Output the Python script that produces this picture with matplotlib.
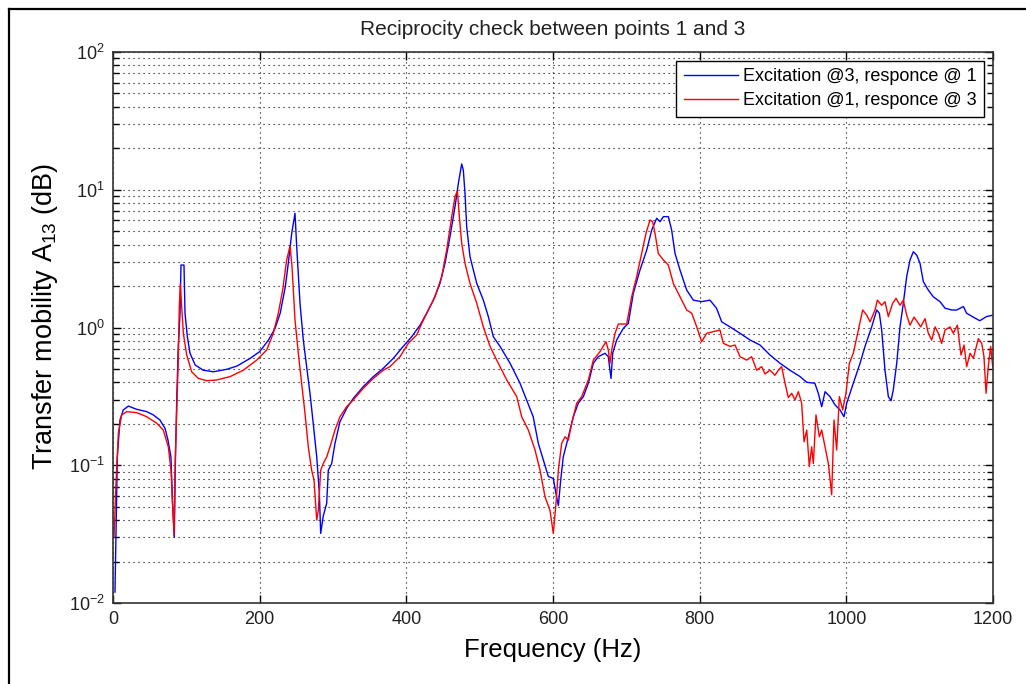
import numpy as np
import matplotlib
matplotlib.use('Agg')
import matplotlib.pyplot as plt
from matplotlib.lines import Line2D
from matplotlib.ticker import LogLocator, NullFormatter, MultipleLocator

plt.rcParams['font.family'] = ['Liberation Sans', 'DejaVu Sans']
plt.rcParams['mathtext.fontset'] = 'custom'
plt.rcParams['mathtext.rm'] = 'Liberation Sans'
plt.rcParams['mathtext.it'] = 'Liberation Sans'
plt.rcParams['mathtext.bf'] = 'Liberation Sans:bold'

# Excitation at point 3, response measured at point 1
freq_31 = [2.7, 5.9, 9.5, 14, 21, 32, 46, 55, 64, 71, 75, 79, 81, 83.6, 85, 87, 89,
           91.4, 92.7, 96.8, 98.2, 101.4, 105, 112, 123, 137, 155, 169, 187, 200,
           212, 221, 228, 235, 239, 243.7, 248.2, 250.5, 255, 259.5, 264, 268.6,
           273, 277.8, 281.4, 283.2, 286.8, 291.4, 293.6, 298.2, 302.7, 309.5,
           318.6, 327.7, 341.3, 355, 368.6, 382.2, 395.9, 407.3, 418.7, 427.8,
           436.8, 445.9, 452.7, 459.5, 466.4, 470.9, 475.5, 477.7, 480, 482.3,
           486.8, 496, 505, 511.8, 518.6, 527.7, 541.4, 555, 564, 573, 580, 586.8,
           593.6, 600.4, 604, 607.3, 610.5, 614, 621, 627.7, 634.5, 641.4, 648.2,
           655, 661.8, 671, 675.4, 679.1, 681.4, 686.8, 695.9, 702.7, 709.5, 718.6,
           727.8, 734.6, 741.4, 745.9, 750.5, 757.3, 761.8, 766.4, 773.2, 782.3,
           791.4, 802.7, 814, 823, 830, 841.4, 855, 868.7, 882.3, 896, 909.6, 923,
           937, 946, 957, 961.8, 966.4, 971, 977.7, 984.6, 991.4, 996.8, 1000.5,
           1009.5, 1018.7, 1025.5, 1034.6, 1041.4, 1045, 1048.2, 1052.7, 1057.3,
           1061, 1064, 1068.7, 1073.2, 1077.7, 1082.3, 1086.8, 1091.4, 1096,
           1100.5, 1105, 1111.8, 1118.6, 1127.7, 1134.6, 1143.7, 1150.5, 1159.6,
           1164, 1173, 1182, 1191, 1200]
mob_31 = [0.012, 0.115, 0.213, 0.252, 0.269, 0.255, 0.245, 0.232, 0.213, 0.185,
          0.152, 0.115, 0.056, 0.030, 0.103, 0.315, 0.73, 1.27, 2.84, 2.84, 1.27,
          0.857, 0.65, 0.535, 0.49, 0.477, 0.497, 0.525, 0.597, 0.668, 0.811,
          0.986, 1.27, 1.98, 2.92, 4.83, 6.75, 3.86, 1.50, 0.811, 0.52, 0.333,
          0.202, 0.115, 0.0625, 0.032, 0.043, 0.053, 0.092, 0.103, 0.144, 0.207,
          0.259, 0.306, 0.372, 0.440, 0.506, 0.597, 0.73, 0.857, 1.04, 1.27, 1.58,
          2.09, 2.92, 4.56, 7.54, 11.1, 15.4, 13.9, 9.42, 5.39, 3.27, 2.09, 1.58,
          1.20, 0.857, 0.73, 0.55, 0.394, 0.298, 0.225, 0.144, 0.109, 0.083,
          0.080, 0.0625, 0.051, 0.078, 0.115, 0.161, 0.225, 0.282, 0.315, 0.394,
          0.55, 0.614, 0.65, 0.614, 0.427, 0.65, 0.811, 0.986, 1.07, 1.77, 2.61,
          3.65, 5.10, 6.21, 5.86, 6.38, 6.38, 5.10, 3.45, 2.61, 1.87, 1.58, 1.54,
          1.58, 1.38, 1.10, 1.01, 0.908, 0.811, 0.746, 0.631, 0.55, 0.49, 0.44,
          0.40, 0.394, 0.333, 0.266, 0.342, 0.315, 0.274, 0.252, 0.225, 0.282,
          0.394, 0.55, 0.73, 1.01, 1.34, 1.27, 0.959, 0.49, 0.315, 0.294, 0.352,
          0.55, 1.01, 1.50, 2.34, 3.09, 3.55, 3.35, 2.92, 2.15, 1.87, 1.67, 1.54,
          1.38, 1.34, 1.34, 1.42, 1.27, 1.19, 1.12, 1.20, 1.23]

# Excitation at point 1, response measured at point 3
freq_13 = [1.4, 4.1, 7.3, 11.8, 18.6, 32.3, 46, 59.6, 68.6, 75.4, 79.1, 81.4, 83.2,
           85, 86.8, 89, 90.4, 91.8, 93.7, 95.9, 100.5, 107.3, 116.3, 127.8, 141.4,
           159.6, 177.7, 196, 209.6, 218.6, 225.4, 231.4, 236.8, 241.4, 244.1,
           248.2, 252.7, 257.3, 261.8, 266.3, 270.9, 274.1, 277.8, 280, 283.2,
           286.8, 291.4, 295.9, 302.7, 309.5, 318.6, 327.7, 341.3, 355, 368.6,
           377.7, 391.4, 402.7, 414.2, 421, 430, 439.1, 448.2, 455, 461.9, 466.4,
           469.6, 472.3, 475.5, 480, 486.8, 496, 505, 514.1, 523.2, 536.9, 550.5,
           557.3, 566.4, 575.5, 582.3, 589.1, 595.9, 600.4, 604.1, 607.3, 611.8,
           616.4, 620.9, 625.5, 632.3, 639.1, 648.2, 655, 664.1, 672.3, 675.4,
           677.7, 680, 684.6, 689.1, 700.5, 707.3, 714.1, 720.9, 726.8, 732.3,
           735.9, 739.1, 743.6, 750.5, 757.3, 764.1, 773.2, 782.3, 789.1, 796,
           802.7, 809.6, 818.6, 827.7, 832.3, 841.4, 848.2, 855, 864.1, 870.9,
           877.7, 884.6, 889.1, 895.9, 902.7, 907.3, 911.8, 916.4, 920.9, 925.5,
           930, 934.6, 939.1, 942.3, 946, 949.5, 952.7, 955, 958.6, 963.2, 966.4,
           970.9, 975.5, 980, 983.2, 986.8, 990.5, 995, 999.5, 1004.1, 1009.5,
           1016.4, 1022.3, 1027.8, 1032.3, 1039.1, 1042.3, 1048.2, 1052.7, 1057.3,
           1063.2, 1067.7, 1073.2, 1077.7, 1082.3, 1086.8, 1092.3, 1096.8, 1101.4,
           1107.3, 1111.8, 1116.4, 1121, 1125.5, 1130, 1134.6, 1141.4, 1145.9,
           1151.4, 1156.4, 1160.5, 1164.1, 1168.7, 1173.2, 1180, 1184.6, 1187.7,
           1190.5, 1193.6, 1196.8, 1199.6]
mob_13 = [0.030, 0.074, 0.171, 0.232, 0.245, 0.241, 0.225, 0.202, 0.180, 0.136,
          0.092, 0.050, 0.031, 0.115, 0.238, 0.58, 1.42, 2.07, 1.42, 0.908, 0.631,
          0.477, 0.427, 0.411, 0.416, 0.440, 0.49, 0.58, 0.687, 0.908, 1.27, 1.87,
          3.09, 3.91, 2.76, 1.13, 0.65, 0.394, 0.238, 0.136, 0.092, 0.078, 0.040,
          0.047, 0.092, 0.103, 0.115, 0.136, 0.180, 0.225, 0.266, 0.298, 0.362,
          0.427, 0.49, 0.52, 0.614, 0.767, 0.883, 1.07, 1.34, 1.67, 2.34, 3.65,
          6.38, 8.91, 9.8, 6.38, 4.08, 2.92, 2.09, 1.50, 1.01, 0.73, 0.58, 0.416,
          0.315, 0.225, 0.180, 0.129, 0.092, 0.059, 0.047, 0.032, 0.053, 0.092,
          0.144, 0.161, 0.152, 0.202, 0.282, 0.315, 0.416, 0.58, 0.668, 0.789,
          0.687, 0.55, 0.687, 0.908, 1.06, 1.06, 1.67, 2.34, 3.45, 4.83, 6.03,
          5.86, 4.83, 3.45, 3.09, 2.84, 2.09, 1.67, 1.34, 1.27, 1.01, 0.789, 0.908,
          0.933, 0.959, 0.767, 0.73, 0.746, 0.614, 0.58, 0.614, 0.49, 0.52, 0.46,
          0.49, 0.45, 0.49, 0.52, 0.394, 0.31, 0.333, 0.298, 0.342, 0.282, 0.148,
          0.180, 0.098, 0.136, 0.103, 0.232, 0.161, 0.180, 0.136, 0.103, 0.061,
          0.213, 0.129, 0.315, 0.252, 0.333, 0.55, 0.65, 0.959, 1.34, 1.23, 1.10,
          1.34, 1.58, 1.45, 1.54, 1.20, 1.50, 1.63, 1.45, 1.58, 1.23, 1.04, 1.19,
          1.10, 1.01, 1.16, 0.908, 0.811, 1.01, 0.908, 0.767, 0.959, 1.01, 0.908,
          1.04, 0.631, 0.746, 0.52, 0.65, 0.597, 0.83, 0.767, 0.614, 0.333, 0.52,
          0.73, 0.52]

fig = plt.figure(figsize=(10.26, 6.84), dpi=100)
ax = fig.add_axes([113 / 1026, 1 - 603 / 684, 880 / 1026, 551 / 684])

ax.semilogy(freq_31, mob_31, color=(0, 0, 1), lw=1.0, label='Excitation @3, responce @ 1')
ax.semilogy(freq_13, mob_13, color=(1, 0, 0), lw=1.0, label='Excitation @1, responce @ 3')

ax.set_xlim(0, 1200)
ax.set_ylim(1e-2, 1e2)
ax.xaxis.set_major_locator(MultipleLocator(200))
ax.yaxis.set_major_locator(LogLocator(base=10))
ax.yaxis.set_minor_locator(LogLocator(base=10, subs=np.arange(2, 10)))
ax.yaxis.set_minor_formatter(NullFormatter())

dots = (0, (1, 3.5))
ax.grid(True, which='major', axis='both', color='k', linestyle=dots, lw=0.8)
ax.grid(True, which='minor', axis='y', color='k', linestyle=dots, lw=0.8)

ax.tick_params(which='both', direction='in', top=True, right=True, labelsize=13,
               colors='k', labelcolor='#222222')
ax.tick_params(which='major', length=6, width=1, pad=6)
ax.tick_params(which='minor', length=4, width=1)
for s in ax.spines.values():
    s.set_linewidth(1.2)
    s.set_color('#333333')

ax.set_title('Reciprocity check between points 1 and 3', fontsize=15, pad=12,
             color='#222222')
ax.set_xlabel('Frequency (Hz)', fontsize=18.5, labelpad=7)
ax.set_ylabel('Transfer mobility A$_{13}$ (dB)', fontsize=19.5, labelpad=6)
ax.yaxis.label.set_y(0.52)

leg = ax.legend(loc='upper right', fontsize=13, handlelength=3.0, handletextpad=0.3,
                borderpad=0.4, labelspacing=0.4, borderaxespad=0.5,
                fancybox=False, framealpha=1)
leg.get_frame().set_edgecolor('k')
leg.get_frame().set_linewidth(1.0)

# window frame on the top and left edges
fig.add_artist(Line2D([8.5 / 1026, 8.5 / 1026], [0, 1 - 8.5 / 684],
                      transform=fig.transFigure, color='k', lw=1.6))
fig.add_artist(Line2D([8.5 / 1026, 1], [1 - 8.5 / 684, 1 - 8.5 / 684],
                      transform=fig.transFigure, color='k', lw=1.6))

fig.savefig('out.png', dpi=100)
